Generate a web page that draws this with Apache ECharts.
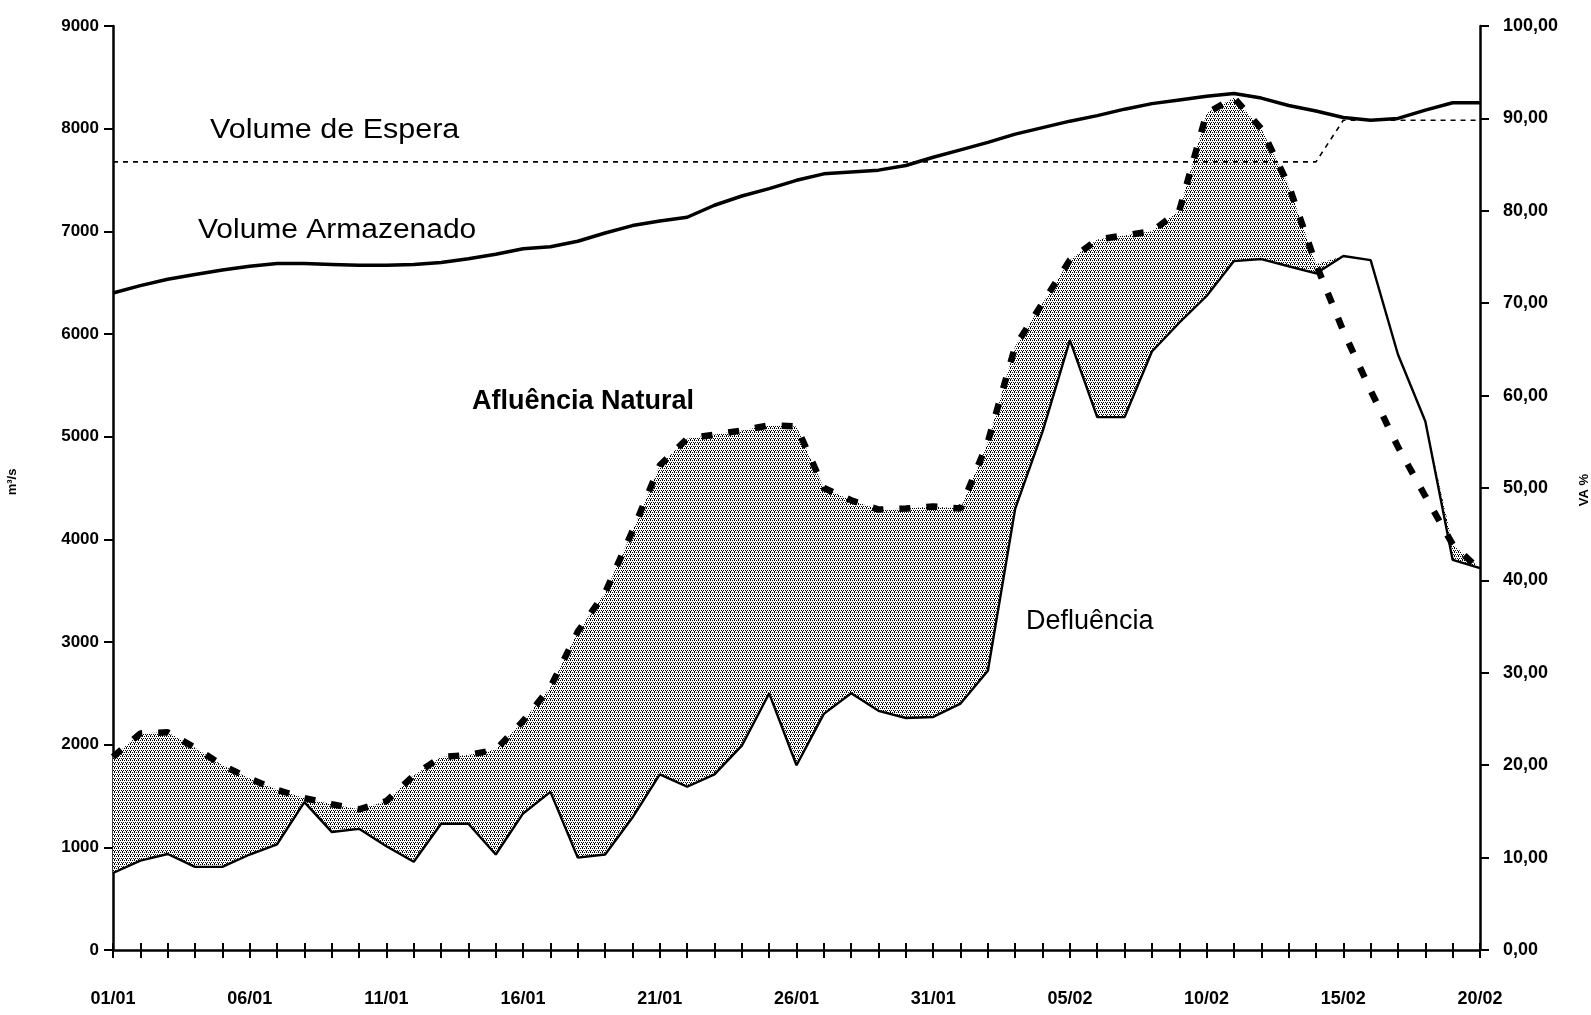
<!DOCTYPE html>
<html>
<head>
<meta charset="utf-8">
<script src="https://cdn.jsdelivr.net/npm/echarts@6.0.0/dist/echarts.min.js"></script>
<style>
html,body{margin:0;padding:0;background:#fff;}
#chart{width:1591px;height:1015px;}
</style>
</head>
<body>
<div id="chart"></div>
<script>
const dates = ['01/01','02/01','03/01','04/01','05/01','06/01','07/01','08/01','09/01','10/01',
  '11/01','12/01','13/01','14/01','15/01','16/01','17/01','18/01','19/01','20/01',
  '21/01','22/01','23/01','24/01','25/01','26/01','27/01','28/01','29/01','30/01','31/01',
  '01/02','02/02','03/02','04/02','05/02','06/02','07/02','08/02','09/02','10/02',
  '11/02','12/02','13/02','14/02','15/02','16/02','17/02','18/02','19/02','20/02'];

// m3/s
const afluenciaNatural = [1880,2110,2120,1970,1800,1670,1560,1480,1420,1370,
  1450,1700,1880,1900,1950,2230,2560,3100,3480,4080,
  4720,4980,5020,5060,5110,5100,4500,4380,4290,4300,4320,
  4300,4950,5880,6300,6720,6920,6960,7000,7200,8150,
  8300,8000,7450,6680,6030,5450,4900,4420,3950,3700];

const defluencia = [750,870,935,810,810,930,1030,1440,1150,1180,
  1010,860,1230,1230,930,1330,1540,900,930,1290,
  1710,1590,1710,1990,2500,1800,2300,2500,2330,2260,2270,
  2400,2720,4300,5050,5940,5190,5190,5830,6110,6370,
  6710,6730,6660,6590,6760,6720,5800,5150,3800,3720];

// VA %
const volumeArmazenado = [71.1,71.9,72.6,73.1,73.6,74.0,74.3,74.3,74.2,74.1,
  74.1,74.2,74.4,74.8,75.3,75.9,76.1,76.7,77.6,78.4,
  78.9,79.3,80.6,81.6,82.4,83.3,84.0,84.2,84.4,84.9,85.8,
  86.6,87.4,88.3,89.0,89.7,90.3,91.0,91.6,92.0,92.4,
  92.7,92.2,91.4,90.8,90.1,89.8,90.0,90.9,91.7,91.7];

const volumeEspera = [85.3,85.3,85.3,85.3,85.3,85.3,85.3,85.3,85.3,85.3,
  85.3,85.3,85.3,85.3,85.3,85.3,85.3,85.3,85.3,85.3,
  85.3,85.3,85.3,85.3,85.3,85.3,85.3,85.3,85.3,85.3,85.3,
  85.3,85.3,85.3,85.3,85.3,85.3,85.3,85.3,85.3,85.3,
  85.3,85.3,85.3,85.3,89.8,89.8,89.8,89.8,89.8,89.8];

const leftTicks = {min:0, max:9000, interval:1000};
const rightTicks = {min:0, max:100, interval:10};

// fill between afluencia and defluencia (only where afluencia is above)
const fillDiff = afluenciaNatural.map((a,i)=>Math.max(0, a - defluencia[i]));

function makePattern(){
  const c = document.createElement('canvas');
  c.width = 4; c.height = 4;
  const g = c.getContext('2d');
  g.fillStyle = '#ffffff'; g.fillRect(0,0,4,4);
  g.fillStyle = '#000000';
  [[0,0],[2,0],[1,2],[3,2],[2,3]].forEach(p=>g.fillRect(p[0],p[1],1,1));
  return c;
}

const chart = echarts.init(document.getElementById('chart'), null, {renderer:'canvas'});
const textFont = 'Liberation Sans, Arial, sans-serif';
const labelFont = {color:'#000', fontFamily:textFont, fontSize:18, fontWeight:'bold'};

chart.setOption({
  animation:false,
  backgroundColor:'#fff',
  grid:{left:113, right:111, top:26, bottom:65, containLabel:false},
  xAxis:[{
    type:'category', data:dates, boundaryGap:false,
    axisLine:{show:true, lineStyle:{color:'#000', width:2.5}},
    axisTick:{show:true, interval:0, length:8, lineStyle:{color:'#000', width:2}},
    axisLabel:Object.assign({interval:4, margin:40}, labelFont),
    splitLine:{show:false}
  },{
    type:'category', data:dates, boundaryGap:false, position:'bottom',
    axisLine:{show:false},
    axisTick:{show:true, inside:true, interval:0, length:7, lineStyle:{color:'#000', width:2}},
    axisLabel:{show:false}, splitLine:{show:false}
  }],
  yAxis:[{
    type:'value', min:leftTicks.min, max:leftTicks.max, interval:leftTicks.interval,
    position:'left',
    axisLine:{show:true, lineStyle:{color:'#000', width:2.5}},
    axisTick:{show:true, length:9, lineStyle:{color:'#000', width:2}},
    axisLabel:Object.assign({margin:14, formatter:v=>String(v)}, labelFont, {fontSize:17}),
    splitLine:{show:false}
  },{
    type:'value', min:rightTicks.min, max:rightTicks.max, interval:rightTicks.interval,
    position:'right',
    axisLine:{show:true, lineStyle:{color:'#000', width:2.5}},
    axisTick:{show:true, length:9, lineStyle:{color:'#000', width:2}},
    axisLabel:Object.assign({margin:23, formatter:v=>v.toFixed(2).replace('.',',')}, labelFont),
    splitLine:{show:false}
  }],
  series:[
    {name:'base', type:'line', stack:'fill', data:defluencia, symbol:'none', silent:true,
     lineStyle:{width:0, opacity:0}, z:1},
    {name:'fill', type:'line', stack:'fill', data:fillDiff, symbol:'none', silent:true,
     lineStyle:{width:0, opacity:0},
     areaStyle:{color:{image:makePattern(), repeat:'repeat'}, opacity:1}, z:1},
    {name:'Defluência', type:'line', data:defluencia, symbol:'none',
     lineStyle:{color:'#000', width:2.4}, z:3},
    {name:'Afluência Natural', type:'line', data:afluenciaNatural, symbol:'none',
     lineStyle:{color:'#000', width:6.5, type:[11,16], cap:'butt'}, z:4},
    {name:'Volume Armazenado', type:'line', yAxisIndex:1, data:volumeArmazenado, symbol:'none',
     lineStyle:{color:'#000', width:3.5}, z:4},
    {name:'Volume de Espera', type:'line', yAxisIndex:1, data:volumeEspera, symbol:'none',
     lineStyle:{color:'#000', width:1.6, type:[5,5]}, z:4}
  ],
  graphic:[
    {type:'text', left:210, top:117, scaleX:1.13, style:{text:'Volume de Espera', font:'27px '+textFont, fill:'#000'}},
    {type:'text', left:198, top:217, scaleX:1.11, style:{text:'Volume Armazenado', font:'27px '+textFont, fill:'#000'}},
    {type:'text', left:472, top:388, style:{text:'Afluência Natural', font:'bold 27px '+textFont, fill:'#000'}},
    {type:'text', left:1026, top:608, style:{text:'Defluência', font:'27px '+textFont, fill:'#000'}},
    {type:'text', x:12, y:482, rotation:Math.PI/2, style:{text:'m³/s', font:'bold 13px '+textFont, fill:'#000', align:'center', verticalAlign:'middle'}},
    {type:'text', x:1584, y:490, rotation:Math.PI/2, style:{text:'VA %', font:'bold 13px '+textFont, fill:'#000', align:'center', verticalAlign:'middle'}}
  ]
});
</script>
</body>
</html>
